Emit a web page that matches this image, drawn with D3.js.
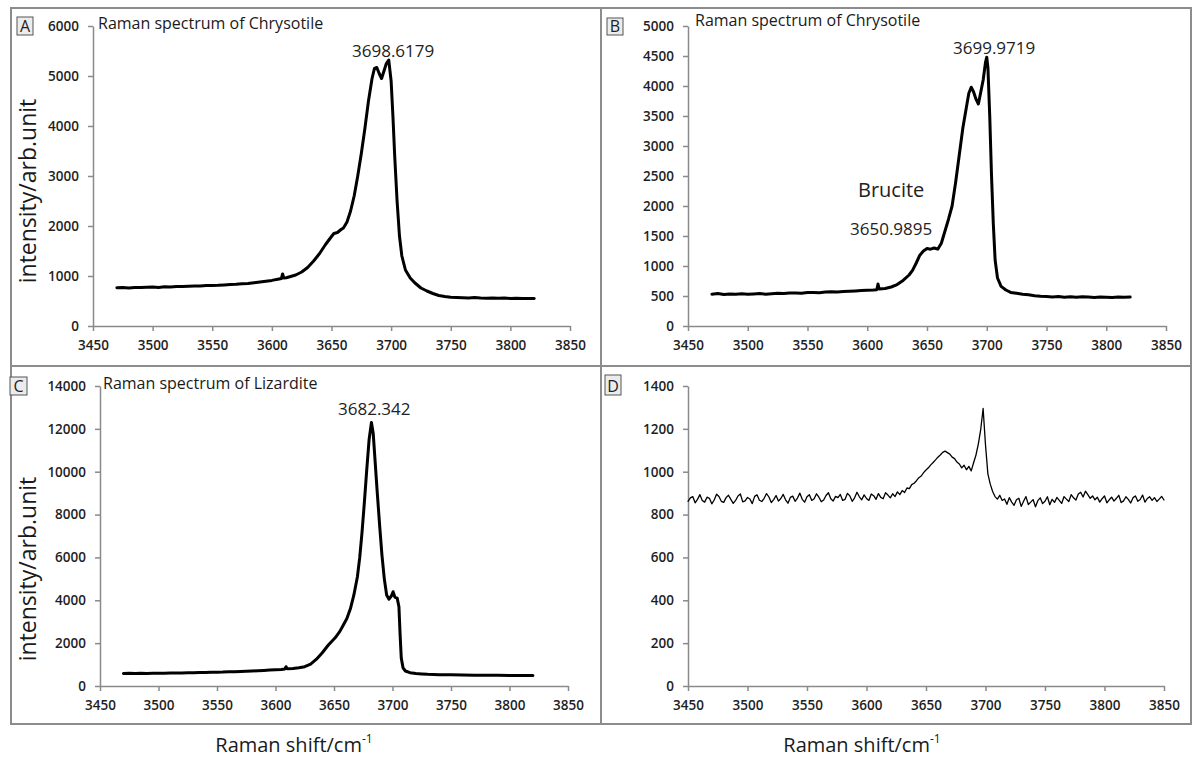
<!DOCTYPE html>
<html><head><meta charset="utf-8">
<script src="https://cdn.jsdelivr.net/npm/d3@7"></script>
<style>body{margin:0;background:#fff}svg{display:block}</style>
</head><body><svg id="chart" width="1193" height="760"></svg>
<script>
// ---------- DATA ----------
const shiftTicks = [3450, 3500, 3550, 3600, 3650, 3700, 3750, 3800, 3850];
const yTicksA = [0, 1000, 2000, 3000, 4000, 5000, 6000];
const yTicksB = [0, 500, 1000, 1500, 2000, 2500, 3000, 3500, 4000, 4500, 5000];
const yTicksC = [0, 2000, 4000, 6000, 8000, 10000, 12000, 14000];
const yTicksD = [0, 200, 400, 600, 800, 1000, 1200, 1400];

// Panel A: Chrysotile
const shiftA = [3470,3475,3480,3485,3490,3495,3500,3505,3510,3515,3520,3525,3530,3535,3540,3545,3550,3555,3560,3565,3570,3575,3580,3585,3590,3595,3600,3605,3608,3609,3610,3612,3615,3620,3625,3630,3635,3640,3645,3650,3652,3655,3658,3660,3663,3666,3669,3672,3675,3678,3681,3684,3686,3688,3690,3692,3694,3696,3698,3700,3701.5,3703,3705,3707,3709,3712,3716,3720,3725,3730,3735,3740,3745,3750,3755,3760,3765,3770,3775,3780,3785,3790,3795,3800,3805,3810,3815,3820];
const intensityA = [765,770,760,772,768,775,778,772,785,780,790,788,795,800,798,808,812,815,822,830,835,845,852,865,880,895,912,935,950,1040,960,965,985,1020,1080,1170,1300,1450,1630,1790,1850,1870,1930,1960,2080,2300,2600,3000,3450,3950,4500,4950,5150,5170,5050,4950,5100,5250,5320,4900,4200,3400,2500,1800,1400,1120,960,860,760,700,650,610,590,575,570,565,560,568,560,555,562,555,558,550,555,548,552,550];

// Panel B: Chrysotile with brucite
const shiftB = [3470,3475,3480,3485,3490,3495,3500,3505,3510,3515,3520,3525,3530,3535,3540,3545,3550,3555,3560,3565,3570,3575,3580,3585,3590,3595,3600,3605,3608,3609,3610,3615,3620,3625,3630,3635,3638,3641,3644,3647,3650,3653,3656,3659,3662,3665,3668,3671,3674,3677,3680,3683,3685,3687,3689,3691,3693,3695,3697,3699,3700,3701,3702.5,3704,3705.5,3707,3709,3712,3716,3720,3725,3730,3735,3740,3745,3750,3755,3760,3765,3770,3775,3780,3785,3790,3795,3800,3805,3810,3815,3820];
const intensityB = [530,540,525,535,530,538,528,535,540,530,538,545,540,548,552,545,558,560,555,565,570,568,575,580,585,590,595,600,605,700,615,625,650,690,760,850,930,1050,1180,1250,1290,1280,1300,1280,1380,1580,1780,2000,2400,2850,3300,3650,3880,3980,3900,3780,3700,3900,4100,4400,4480,4300,3500,2500,1700,1100,800,660,600,560,545,530,520,505,495,490,485,492,480,486,478,488,482,476,485,480,474,484,478,482];

// Panel C: Lizardite
const shiftC = [3470,3475,3480,3485,3490,3495,3500,3505,3510,3515,3520,3525,3530,3535,3540,3545,3550,3555,3560,3565,3570,3575,3580,3585,3590,3595,3600,3605,3608,3609,3610,3615,3620,3625,3630,3635,3640,3645,3648,3651,3655,3658,3661,3664,3667,3670,3672,3674,3676,3678,3680,3682,3683.5,3685,3687,3689,3691,3693,3695,3697,3699,3700.5,3702,3704,3705.5,3706.5,3707.5,3709,3711,3715,3720,3725,3730,3740,3750,3760,3770,3780,3790,3800,3810,3820];
const intensityC = [585,590,580,592,588,595,600,598,605,610,608,615,622,625,630,640,645,650,662,668,680,690,700,715,728,745,760,775,790,900,800,820,850,900,1020,1250,1550,1900,2080,2250,2550,2850,3150,3600,4250,5100,6000,7200,8600,10100,11500,12300,11800,10600,9000,7500,6100,5000,4250,4050,4200,4400,4150,4100,3700,2400,1300,850,700,620,580,560,545,530,520,512,505,500,496,493,490,490];

// Panel D (sampled every 2 cm-1, rows of 10 points)
const shiftD = [
  3450,3452,3454,3456,3458,3460,3462,3464,3466,3468,
  3470,3472,3474,3476,3478,3480,3482,3484,3486,3488,
  3490,3492,3494,3496,3498,3500,3502,3504,3506,3508,
  3510,3512,3514,3516,3518,3520,3522,3524,3526,3528,
  3530,3532,3534,3536,3538,3540,3542,3544,3546,3548,
  3550,3552,3554,3556,3558,3560,3562,3564,3566,3568,
  3570,3572,3574,3576,3578,3580,3582,3584,3586,3588,
  3590,3592,3594,3596,3598,3600,3602,3604,3606,3608,
  3610,3612,3614,3616,3618,3620,3622,3624,3626,3628,
  3630,3632,3634,3636,3638,3640,3642,3644,3646,3648,
  3650,3652,3654,3656,3658,3660,3662,3664,3666,3668,
  3670,3672,3674,3676,3678,3680,3682,3684,3686,3688,
  3690,3692,3694,3696,3698,3700,3702,3704,3706,3708,
  3710,3712,3714,3716,3718,3720,3722,3724,3726,3728,
  3730,3732,3734,3736,3738,3740,3742,3744,3746,3748,
  3750,3752,3754,3756,3758,3760,3762,3764,3766,3768,
  3770,3772,3774,3776,3778,3780,3782,3784,3786,3788,
  3790,3792,3794,3796,3798,3800,3802,3804,3806,3808,
  3810,3812,3814,3816,3818,3820,3822,3824,3826,3828,
  3830,3832,3834,3836,3838,3840,3842,3844,3846,3848,
  3850];
const intensityD = [
  862,878,884,855,871,893,866,858,881,876,
  850,868,895,884,862,857,879,890,871,852,
  866,887,896,859,864,880,873,851,885,892,
  867,861,876,898,882,856,870,889,863,875,
  894,869,853,880,886,862,877,900,871,858,
  883,893,866,874,897,881,860,868,889,902,
  874,863,885,879,894,866,871,899,887,862,
  878,904,883,869,892,875,866,896,888,871,
  898,880,874,902,891,878,897,884,906,893,
  912,903,924,921,940,946,958,972,980,996,
  1008,1018,1032,1043,1055,1068,1078,1090,1096,1089,
  1082,1068,1061,1045,1036,1018,1030,1009,1025,1004,
  1042,1078,1130,1198,1295,1125,990,942,908,884,
  872,890,866,873,848,879,858,843,869,876,
  838,862,884,847,858,870,836,865,878,851,
  862,883,846,871,857,880,866,852,884,872,
  861,893,878,868,896,904,882,909,893,876,
  887,869,881,858,874,887,855,869,881,863,
  876,890,856,864,883,871,854,879,887,862,
  870,891,858,875,883,866,879,861,872,885,
  868];

// ---------- LAYOUT ----------
const svg = d3.select('#chart');
svg.append('rect').attr('width', 1193).attr('height', 760).attr('fill', '#fff');

const FONT = "'Open Sans', 'Noto Sans', sans-serif";
const AXIS_COLOR = '#8a8a8a';

// panel frames
const frames = [[11, 8, 590, 358], [601, 8, 590, 358], [11, 366, 590, 358], [601, 366, 590, 358]];
svg.append('g').selectAll('rect').data(frames).join('rect')
  .attr('x', d => d[0]).attr('y', d => d[1]).attr('width', d => d[2]).attr('height', d => d[3])
  .attr('fill', 'none').attr('stroke', '#8c8c8c').attr('stroke-width', 2);

const panels = [
  { key: 'A', shift: shiftA, intensity: intensityA, yTicks: yTicksA, xr: [93, 570], yr: [326, 26], lw: 3,
    title: 'Raman spectrum of Chrysotile', tx: 98, ty: 29, box: [17, 17, 16, 18],
    notes: [{ t: '3698.6179', x: 352, y: 57, s: 17 }] },
  { key: 'B', shift: shiftB, intensity: intensityB, yTicks: yTicksB, xr: [688, 1166], yr: [326, 26], lw: 3,
    title: 'Raman spectrum of Chrysotile', tx: 695, ty: 26, box: [607, 18, 16, 17],
    notes: [{ t: '3699.9719', x: 953, y: 54, s: 17 }, { t: 'Brucite', x: 858, y: 197, s: 20 }, { t: '3650.9895', x: 850, y: 235, s: 17 }] },
  { key: 'C', shift: shiftC, intensity: intensityC, yTicks: yTicksC, xr: [100, 568], yr: [686, 386], lw: 3,
    title: 'Raman spectrum of Lizardite', tx: 103, ty: 389, box: [10, 377, 17, 18],
    notes: [{ t: '3682.342', x: 338, y: 415, s: 17 }] },
  { key: 'D', shift: shiftD, intensity: intensityD, yTicks: yTicksD, xr: [688, 1164], yr: [686, 386], lw: 1.3,
    title: null, box: [605, 375, 16, 20], notes: [] }
];

panels.forEach(p => {
  const g = svg.append('g');
  const x = d3.scaleLinear().domain([3450, 3850]).range(p.xr);
  const y = d3.scaleLinear().domain([0, p.yTicks[p.yTicks.length - 1]]).range(p.yr);

  const xAxis = g.append('g').attr('transform', `translate(0,${p.yr[0]})`)
    .call(d3.axisBottom(x).tickValues(shiftTicks).tickFormat(d3.format('d')).tickSize(5).tickSizeOuter(0).tickPadding(9));
  const yAxis = g.append('g').attr('transform', `translate(${p.xr[0]},0)`)
    .call(d3.axisLeft(y).tickValues(p.yTicks).tickFormat(d3.format('d')).tickSize(5).tickSizeOuter(0).tickPadding(9));
  [xAxis, yAxis].forEach(a => {
    a.selectAll('.domain, line').attr('stroke', AXIS_COLOR).attr('stroke-width', 1.5);
    a.selectAll('text').attr('font-family', FONT).attr('font-size', 13.5).attr('font-weight', 600).attr('fill', '#1e1e1e');
  });

  const line = d3.line().x((d, i) => x(p.shift[i])).y((d, i) => y(p.intensity[i]));
  g.append('path').datum(p.intensity).attr('d', line)
    .attr('fill', 'none').attr('stroke', '#000').attr('stroke-width', p.lw).attr('stroke-linejoin', 'round').attr('stroke-linecap', 'round');

  if (p.title) {
    g.append('text').attr('x', p.tx).attr('y', p.ty).text(p.title)
      .attr('font-family', FONT).attr('font-size', 16).attr('fill', '#1a1a1a');
  }
  p.notes.forEach(n => {
    g.append('text').attr('x', n.x).attr('y', n.y).text(n.t)
      .attr('font-family', FONT).attr('font-size', n.s).attr('fill', '#222');
  });
  // panel letter box
  g.append('rect').attr('x', p.box[0]).attr('y', p.box[1]).attr('width', p.box[2]).attr('height', p.box[3])
    .attr('fill', '#ececec').attr('stroke', '#555').attr('stroke-width', 1);
  g.append('text').attr('x', p.box[0] + p.box[2] / 2).attr('y', p.box[1] + p.box[3] - 3)
    .attr('text-anchor', 'middle').text(p.key)
    .attr('font-family', FONT).attr('font-size', 16).attr('fill', '#222');
});

// axis titles
[191, 569].forEach(cy => {
  svg.append('text').attr('transform', `translate(36,${cy}) rotate(-90)`).attr('text-anchor', 'middle')
    .text('intensity/arb.unit').attr('font-family', FONT).attr('font-size', 23).attr('fill', '#1a1a1a');
});
[294, 862].forEach(cx => {
  const t = svg.append('text').attr('x', cx).attr('y', 752).attr('text-anchor', 'middle')
    .attr('font-family', FONT).attr('font-size', 20).attr('fill', '#1a1a1a');
  t.append('tspan').text('Raman shift/cm');
  t.append('tspan').attr('dy', -9).attr('font-size', 12).text('-1');
});
</script>
</body></html>
